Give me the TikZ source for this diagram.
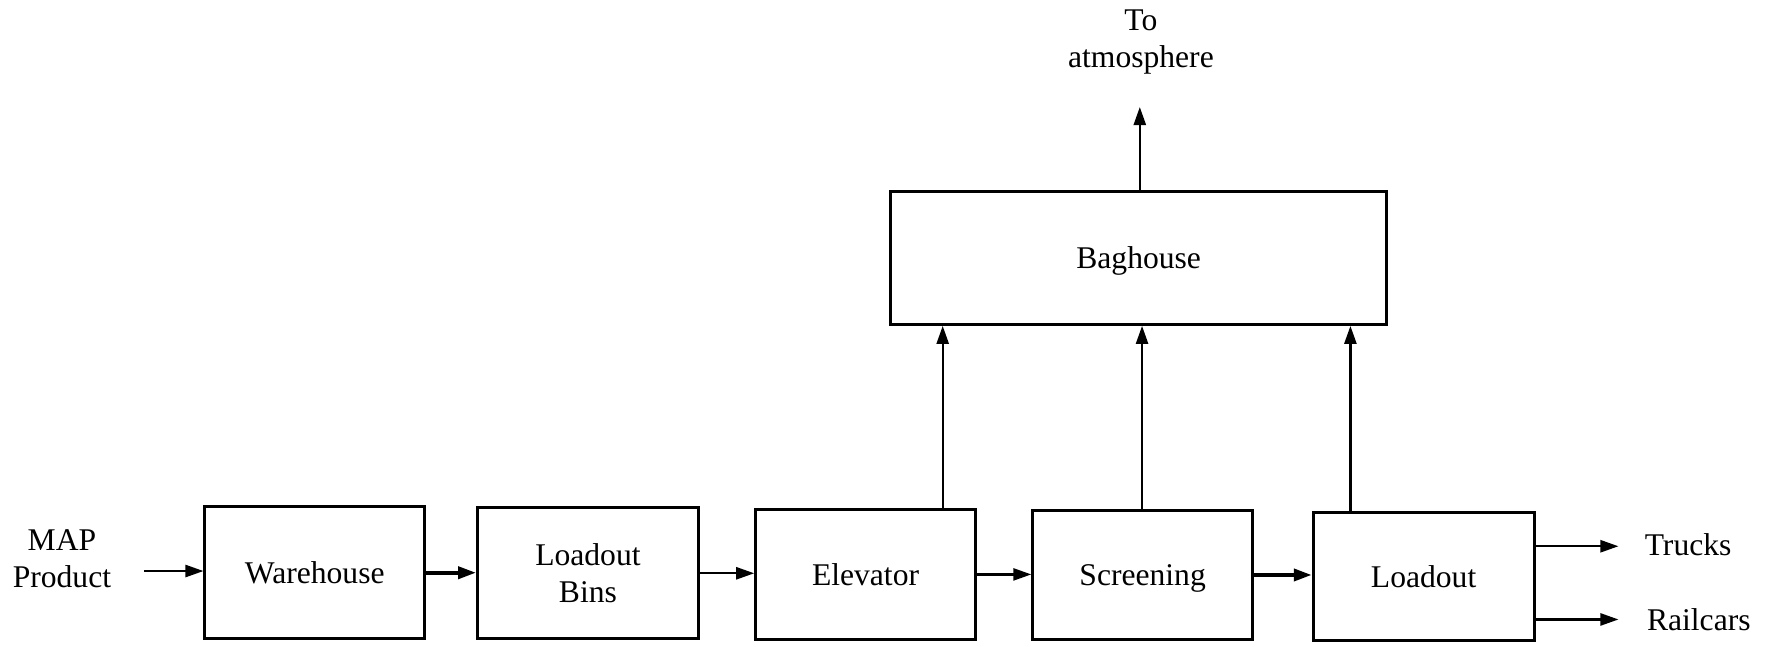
\documentclass[tikz,border=0pt]{standalone}
\usepackage{fontspec}
\setmainfont{Liberation Serif}
\usetikzlibrary{arrows.meta}
\begin{document}
\begin{tikzpicture}[x=0.5631pt,y=-0.5631pt,
  font=\fontsize{15.8}{18.5}\selectfont,
  blk/.style={draw,line width=1.5pt,minimum width=#1*0.5631pt,inner sep=0pt,align=center,text height=11pt,text depth=0pt},
  arr/.style={line width=1.2pt,-{Triangle[length=9pt,width=6pt]}},
  thk/.style={line width=1.9pt,-{Triangle[length=9pt,width=6pt]}},
  lbl/.style={align=center,inner sep=0pt}]
\useasboundingbox (0,0) rectangle (1568,573.57);
\node[blk=195,minimum height=117*0.5631pt] (wh) at (279.5,508.5) {Warehouse};
\node[blk=196,minimum height=116*0.5631pt,text height=,text depth=] (lb) at (522,509) {Loadout\\Bins};
\node[blk=195,minimum height=116*0.5631pt] (el) at (768.5,510) {Elevator};
\node[blk=195,minimum height=115*0.5631pt] (sc) at (1014.5,510.5) {Screening};
\node[blk=196,minimum height=114*0.5631pt] (lo) at (1264,512) {Loadout};
\node[blk=440,minimum height=118*0.5631pt] (bh) at (1011,229) {Baghouse};
\node[lbl] (map) at (55,496) {MAP\\Product};
\node[lbl] (atm) at (1013,37) {To\\atmosphere};
\node[lbl,anchor=west] (tr) at (1460,484) {Trucks};
\node[lbl,anchor=west] (rc) at (1462,550) {Railcars};
\coordinate (m) at (128,507);
\coordinate (c1) at (837,0);
\coordinate (c2) at (1014,0);
\coordinate (c3) at (1199,0);
\coordinate (up) at (1012,95);
\coordinate (t1) at (1437,485);
\coordinate (r1) at (1437,550);
\draw[arr] (m) -- (m -| wh.west);
\draw[thk] (wh.east) -- (wh.east -| lb.west);
\draw[arr] (lb.east) -- (lb.east -| el.west);
\draw[arr] (el.east) -- (el.east -| sc.west);
\draw[thk] (sc.east) -- (sc.east -| lo.west);
\draw[arr] (c1 |- el.north) -- (c1 |- bh.south);
\draw[arr] (c2 |- sc.north) -- (c2 |- bh.south);
\draw[arr] (c3 |- lo.north) -- (c3 |- bh.south);
\draw[arr] (up |- bh.north) -- (up);
\draw[arr] (t1 -| lo.east) -- (t1);
\draw[arr] (r1 -| lo.east) -- (r1);
\end{tikzpicture}
\end{document}
